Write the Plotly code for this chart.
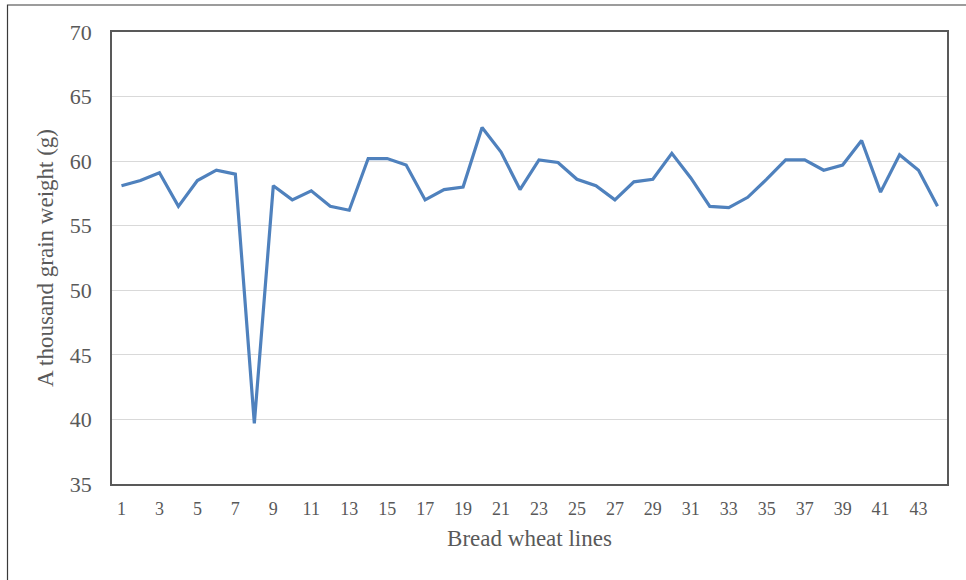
import plotly.graph_objects as go

lines = list(range(1, 45))
weights = [58.1, 58.5, 59.1, 56.5, 58.5, 59.3, 59.0, 39.7, 58.1, 57.0,
           57.7, 56.5, 56.2, 60.2, 60.2, 59.7, 57.0, 57.8, 58.0, 62.6,
           60.7, 57.8, 60.1, 59.9, 58.6, 58.1, 57.0, 58.4, 58.6, 60.6,
           58.7, 56.5, 56.4, 57.2, 58.6, 60.1, 60.1, 59.3, 59.7, 61.6,
           57.6, 60.5, 59.3, 56.5]
x_ticks = list(range(1, 45, 2))
y_ticks = [35, 40, 45, 50, 55, 60, 65, 70]

fig = go.Figure()
fig.add_trace(go.Scatter(x=lines, y=weights, mode="lines",
                         line=dict(color="#4F81BD", width=3.2)))

font = "Liberation Serif, Times New Roman, serif"
L, R, T, B = 112, 19, 32, 96
W, H = 966, 580
pw, ph = W - L - R, H - T - B

fig.update_layout(
    width=W, height=H,
    margin=dict(l=L, r=R, t=T, b=B),
    paper_bgcolor="white", plot_bgcolor="white",
    showlegend=False,
    font=dict(family=font, color="#595959"),
    xaxis=dict(
        range=[0.5, 44.5], tickmode="array", tickvals=x_ticks,
        ticktext=[str(v) for v in x_ticks],
        showgrid=False, zeroline=False,
        showline=True, linecolor="#595959", linewidth=1.5, mirror=True,
        ticks="outside", ticklen=8, tickcolor="rgba(0,0,0,0)",
        tickfont=dict(size=18, family=font, color="#595959"),
        title=dict(text="Bread wheat lines", standoff=12,
                   font=dict(size=23, family=font, color="#595959")),
    ),
    yaxis=dict(
        range=[35, 70], tickmode="array", tickvals=y_ticks,
        showgrid=True, gridcolor="#d9d9d9", gridwidth=1, zeroline=False,
        showline=True, linecolor="#595959", linewidth=1.5, mirror=True,
        ticks="outside", ticklen=14, tickcolor="rgba(0,0,0,0)",
        tickfont=dict(size=22, family=font, color="#595959"),
        title=dict(text="A thousand grain weight (g)", standoff=10,
                   font=dict(size=23, family=font, color="#595959")),
    ),
)

fig.add_shape(type="rect", xref="paper", yref="paper",
              x0=(7.5 - L) / pw, x1=(990 - L) / pw,
              y0=(H - B - 610) / ph, y1=(H - B - 5) / ph,
              line=dict(color="#3a3a3a", width=1.2), fillcolor="rgba(0,0,0,0)",
              layer="below")

fig.write_html("out.html", config={"displayModeBar": False},
               post_script="document.body.style.margin='0';document.body.style.overflow='hidden';")
